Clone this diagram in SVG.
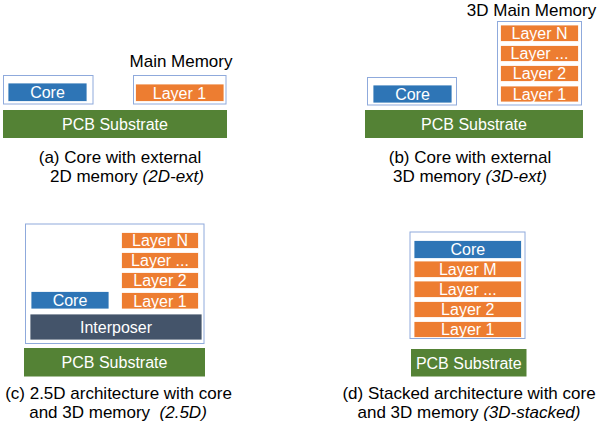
<svg xmlns="http://www.w3.org/2000/svg" width="598" height="426" viewBox="0 0 598 426">
<style>
.bg{fill:#ffffff}
.box{fill:#ffffff;stroke:#8faadc;stroke-width:1}
.core{fill:#2e75b6;stroke:#ffffff;stroke-width:0.8}
.layer{fill:#ed7d31;stroke:#ffffff;stroke-width:0.8}
.pcb{fill:#548235}
.intp{fill:#44546a;stroke:#ffffff;stroke-width:0.8}
.in{font-family:"Liberation Sans",Arial,sans-serif;font-size:16px;fill:#ffffff;text-anchor:middle}
.lbl{font-family:"Liberation Sans",Arial,sans-serif;font-size:17px;fill:#000000;text-anchor:middle}
.it{font-style:italic}
</style>
<rect class="bg" x="0" y="0" width="598" height="426"/>

<!-- Panel (a) -->
<g id="a-core-box">
<rect class="box" x="3.5" y="75.5" width="89.5" height="28.5"/>
<rect class="core" x="8" y="83" width="79" height="18.5"/>
<text class="in" x="47.5" y="98">Core</text>
</g>
<g id="a-memory">
<text class="lbl" x="181" y="67">Main Memory</text>
<rect class="box" x="133.5" y="75.5" width="92.5" height="28.5"/>
<rect class="layer" x="135.5" y="84" width="88.5" height="17.5"/>
<text class="in" x="179.5" y="98.5">Layer 1</text>
</g>
<g id="a-pcb">
<rect class="pcb" x="3" y="110" width="224" height="28"/>
<text class="in" x="115" y="130">PCB Substrate</text>
</g>
<g id="a-caption">
<text class="lbl" x="120" y="163">(a) Core with external</text>
<text class="lbl" x="127" y="182">2D memory <tspan class="it">(2D-ext)</tspan></text>
</g>

<!-- Panel (b) -->
<g id="b-memory">
<text class="lbl" x="531.5" y="16">3D Main Memory</text>
<rect class="box" x="497.5" y="21.5" width="84" height="83.5"/>
<rect class="layer" x="500.5" y="25" width="78" height="16.5"/>
<text class="in" x="539.5" y="39">Layer N</text>
<rect class="layer" x="500.5" y="45.5" width="78" height="16"/>
<text class="in" x="539.5" y="59">Layer ...</text>
<rect class="layer" x="500.5" y="65.5" width="78" height="16"/>
<text class="in" x="539.5" y="79">Layer 2</text>
<rect class="layer" x="500.5" y="86" width="78" height="16"/>
<text class="in" x="539.5" y="99.5">Layer 1</text>
</g>
<g id="b-core-box">
<rect class="box" x="367.5" y="77.5" width="89" height="27.5"/>
<rect class="core" x="373" y="85" width="79" height="18"/>
<text class="in" x="412.5" y="99.5">Core</text>
</g>
<g id="b-pcb">
<rect class="pcb" x="365" y="110" width="218" height="28"/>
<text class="in" x="474" y="130">PCB Substrate</text>
</g>
<g id="b-caption">
<text class="lbl" x="470" y="163">(b) Core with external</text>
<text class="lbl" x="470" y="182">3D memory <tspan class="it">(3D-ext)</tspan></text>
</g>

<!-- Panel (c) -->
<g id="c-package">
<rect class="box" x="25.5" y="224" width="178.5" height="119.5"/>
<rect class="layer" x="121.5" y="232.5" width="77" height="16"/>
<text class="in" x="160" y="246">Layer N</text>
<rect class="layer" x="121.5" y="252.5" width="77" height="16"/>
<text class="in" x="160" y="266">Layer ...</text>
<rect class="layer" x="121.5" y="272.5" width="77" height="16"/>
<text class="in" x="160" y="286">Layer 2</text>
<rect class="layer" x="121.5" y="292.5" width="77" height="16.5"/>
<text class="in" x="160" y="306.5">Layer 1</text>
<rect class="core" x="31" y="291.5" width="78" height="17.5"/>
<text class="in" x="70" y="306">Core</text>
<rect class="intp" x="30" y="314" width="172" height="26"/>
<text class="in" x="116" y="333">Interposer</text>
</g>
<g id="c-pcb">
<rect class="pcb" x="24" y="348" width="181" height="28.5"/>
<text class="in" x="114.5" y="368">PCB Substrate</text>
</g>
<g id="c-caption">
<text class="lbl" x="118.5" y="399">(c) 2.5D architecture with core</text>
<text class="lbl" x="118" y="418" xml:space="preserve">and 3D memory  <tspan class="it">(2.5D)</tspan></text>
</g>

<!-- Panel (d) -->
<g id="d-stack">
<rect class="box" x="410" y="232" width="115" height="106.5"/>
<rect class="core" x="414" y="240.5" width="107.5" height="18"/>
<text class="in" x="467.8" y="255">Core</text>
<rect class="layer" x="414" y="261" width="107.5" height="16.5"/>
<text class="in" x="467.8" y="275">Layer M</text>
<rect class="layer" x="414" y="281" width="107.5" height="16.5"/>
<text class="in" x="467.8" y="295">Layer ...</text>
<rect class="layer" x="414" y="301.5" width="107.5" height="16"/>
<text class="in" x="467.8" y="315">Layer 2</text>
<rect class="layer" x="414" y="321.5" width="107.5" height="16"/>
<text class="in" x="467.8" y="335">Layer 1</text>
</g>
<g id="d-pcb">
<rect class="pcb" x="411" y="349" width="115.5" height="27.5"/>
<text class="in" x="468.8" y="368.5">PCB Substrate</text>
</g>
<g id="d-caption">
<text class="lbl" x="469" y="399">(d) Stacked architecture with core</text>
<text class="lbl" x="469" y="418">and 3D memory <tspan class="it">(3D-stacked)</tspan></text>
</g>
</svg>
